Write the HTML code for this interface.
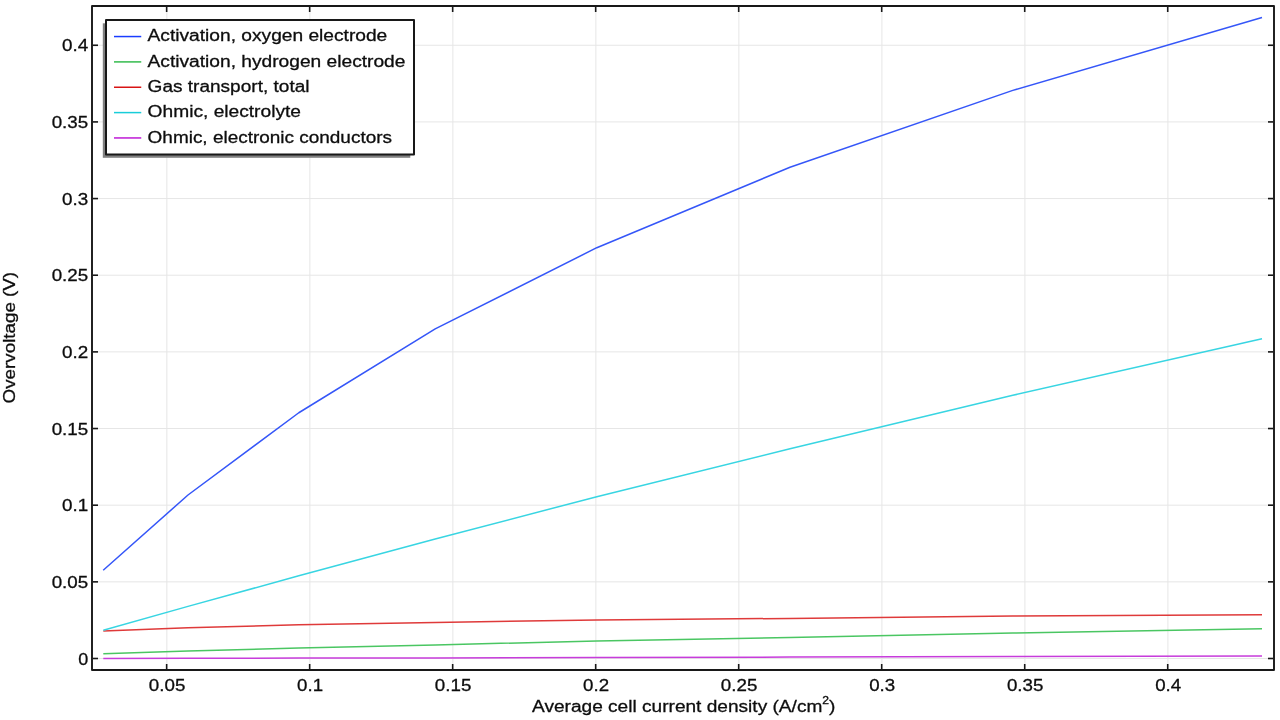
<!DOCTYPE html>
<html lang="en"><head><meta charset="utf-8"><title>Overvoltage vs average cell current density</title>
<style>html,body{margin:0;padding:0;background:#fff}body{width:1280px;height:720px;overflow:hidden}svg{display:block;will-change:transform}text{font-family:"Liberation Sans",sans-serif;fill:#0d0d0d;stroke:#0d0d0d;stroke-width:0.3px}</style>
</head><body>
<svg width="1280" height="720" viewBox="0 0 1280 720">
<rect x="0" y="0" width="1280" height="720" fill="#ffffff"/>
<g stroke="#e6e6e6" stroke-width="1">
<line x1="166.85" y1="7" x2="166.85" y2="669"/>
<line x1="309.86" y1="7" x2="309.86" y2="669"/>
<line x1="452.87" y1="7" x2="452.87" y2="669"/>
<line x1="595.88" y1="7" x2="595.88" y2="669"/>
<line x1="738.89" y1="7" x2="738.89" y2="669"/>
<line x1="881.90" y1="7" x2="881.90" y2="669"/>
<line x1="1024.91" y1="7" x2="1024.91" y2="669"/>
<line x1="1167.92" y1="7" x2="1167.92" y2="669"/>
<line x1="93" y1="658.50" x2="1273" y2="658.50"/>
<line x1="93" y1="581.85" x2="1273" y2="581.85"/>
<line x1="93" y1="505.19" x2="1273" y2="505.19"/>
<line x1="93" y1="428.53" x2="1273" y2="428.53"/>
<line x1="93" y1="351.88" x2="1273" y2="351.88"/>
<line x1="93" y1="275.23" x2="1273" y2="275.23"/>
<line x1="93" y1="198.57" x2="1273" y2="198.57"/>
<line x1="93" y1="121.91" x2="1273" y2="121.91"/>
<line x1="93" y1="45.26" x2="1273" y2="45.26"/>
</g>
<g stroke="#181818" stroke-width="1.6">
<line x1="166.65" y1="669" x2="166.65" y2="664"/>
<line x1="166.65" y1="7" x2="166.65" y2="12"/>
<line x1="309.66" y1="669" x2="309.66" y2="664"/>
<line x1="309.66" y1="7" x2="309.66" y2="12"/>
<line x1="452.67" y1="669" x2="452.67" y2="664"/>
<line x1="452.67" y1="7" x2="452.67" y2="12"/>
<line x1="595.68" y1="669" x2="595.68" y2="664"/>
<line x1="595.68" y1="7" x2="595.68" y2="12"/>
<line x1="738.69" y1="669" x2="738.69" y2="664"/>
<line x1="738.69" y1="7" x2="738.69" y2="12"/>
<line x1="881.70" y1="669" x2="881.70" y2="664"/>
<line x1="881.70" y1="7" x2="881.70" y2="12"/>
<line x1="1024.71" y1="669" x2="1024.71" y2="664"/>
<line x1="1024.71" y1="7" x2="1024.71" y2="12"/>
<line x1="1167.72" y1="669" x2="1167.72" y2="664"/>
<line x1="1167.72" y1="7" x2="1167.72" y2="12"/>
<line x1="93" y1="658.50" x2="98" y2="658.50"/>
<line x1="1273" y1="658.50" x2="1268" y2="658.50"/>
<line x1="93" y1="581.85" x2="98" y2="581.85"/>
<line x1="1273" y1="581.85" x2="1268" y2="581.85"/>
<line x1="93" y1="505.19" x2="98" y2="505.19"/>
<line x1="1273" y1="505.19" x2="1268" y2="505.19"/>
<line x1="93" y1="428.53" x2="98" y2="428.53"/>
<line x1="1273" y1="428.53" x2="1268" y2="428.53"/>
<line x1="93" y1="351.88" x2="98" y2="351.88"/>
<line x1="1273" y1="351.88" x2="1268" y2="351.88"/>
<line x1="93" y1="275.23" x2="98" y2="275.23"/>
<line x1="1273" y1="275.23" x2="1268" y2="275.23"/>
<line x1="93" y1="198.57" x2="98" y2="198.57"/>
<line x1="1273" y1="198.57" x2="1268" y2="198.57"/>
<line x1="93" y1="121.91" x2="98" y2="121.91"/>
<line x1="1273" y1="121.91" x2="1268" y2="121.91"/>
<line x1="93" y1="45.26" x2="98" y2="45.26"/>
<line x1="1273" y1="45.26" x2="1268" y2="45.26"/>
</g>
<g fill="none" stroke-width="1.5" stroke-linejoin="round">
<polyline stroke="#3556f8" points="103.2,570.2 188,495 298.8,412.75 435.2,328.9 596.8,247.7 790,167.25 1012.8,90.4 1262,17.5"/>
<polyline stroke="#4ac662" points="103.3,653.75 188,651.1 298.8,648.1 435.2,645 596.8,640.9 790,637.5 1012.8,633 1262,628.85"/>
<polyline stroke="#df3a3a" points="103.3,631 188,627.75 298.8,624.75 435.2,622.4 596.8,620 790,618.4 1012.8,616.1 1262,614.8"/>
<polyline stroke="#38d5e2" points="103.3,630.2 188,606.4 298.8,575.8 435.2,539 596.8,496.7 790,448.7 1012.8,395.3 1262,338.7"/>
<polyline stroke="#c73cdb" points="103.3,658.5 188,658.35 298.8,658.1 435.2,657.9 596.8,657.5 790,657.1 1012.8,656.4 1262,655.9"/>
</g>
<rect x="92" y="6" width="1182" height="664" fill="none" stroke="#181818" stroke-width="1.9" stroke-linejoin="round"/>
<rect x="102.8" y="23.3" width="307.5" height="134.5" fill="#808080"/>
<rect x="106" y="20" width="308" height="134.4" fill="#ffffff" stroke="#181818" stroke-width="2" stroke-linejoin="round"/>
<line x1="114" y1="36.55" x2="141.25" y2="36.55" stroke="#1a3cff" stroke-width="1.5"/>
<text x="147.6" y="41" font-size="17.3" textLength="239.7" lengthAdjust="spacingAndGlyphs">Activation, oxygen electrode</text>
<line x1="114" y1="61.90" x2="141.25" y2="61.90" stroke="#33bb4d" stroke-width="1.5"/>
<text x="147.6" y="67" font-size="17.3" textLength="257.8" lengthAdjust="spacingAndGlyphs">Activation, hydrogen electrode</text>
<line x1="114" y1="87.25" x2="141.25" y2="87.25" stroke="#d81414" stroke-width="1.5"/>
<text x="147.6" y="92" font-size="17.3" textLength="161.9" lengthAdjust="spacingAndGlyphs">Gas transport, total</text>
<line x1="114" y1="112.60" x2="141.25" y2="112.60" stroke="#19cdd9" stroke-width="1.5"/>
<text x="147.6" y="117" font-size="17.3" textLength="153.4" lengthAdjust="spacingAndGlyphs">Ohmic, electrolyte</text>
<line x1="114" y1="137.95" x2="141.25" y2="137.95" stroke="#bf1ad6" stroke-width="1.5"/>
<text x="147.6" y="143" font-size="17.3" textLength="244.4" lengthAdjust="spacingAndGlyphs">Ohmic, electronic conductors</text>
<text x="78.20" y="664.50" font-size="17.3" textLength="10.0" lengthAdjust="spacingAndGlyphs">0</text>
<text x="51.70" y="587.85" font-size="17.3" textLength="36.5" lengthAdjust="spacingAndGlyphs">0.05</text>
<text x="62.00" y="511.19" font-size="17.3" textLength="26.2" lengthAdjust="spacingAndGlyphs">0.1</text>
<text x="51.70" y="434.53" font-size="17.3" textLength="36.5" lengthAdjust="spacingAndGlyphs">0.15</text>
<text x="62.00" y="357.88" font-size="17.3" textLength="26.2" lengthAdjust="spacingAndGlyphs">0.2</text>
<text x="51.70" y="281.23" font-size="17.3" textLength="36.5" lengthAdjust="spacingAndGlyphs">0.25</text>
<text x="62.00" y="204.57" font-size="17.3" textLength="26.2" lengthAdjust="spacingAndGlyphs">0.3</text>
<text x="51.70" y="127.91" font-size="17.3" textLength="36.5" lengthAdjust="spacingAndGlyphs">0.35</text>
<text x="62.00" y="51.26" font-size="17.3" textLength="26.2" lengthAdjust="spacingAndGlyphs">0.4</text>
<text x="148.85" y="690.8" font-size="17.3" textLength="36.5" lengthAdjust="spacingAndGlyphs">0.05</text>
<text x="297.11" y="690.8" font-size="17.3" textLength="26.0" lengthAdjust="spacingAndGlyphs">0.1</text>
<text x="434.87" y="690.8" font-size="17.3" textLength="36.5" lengthAdjust="spacingAndGlyphs">0.15</text>
<text x="583.13" y="690.8" font-size="17.3" textLength="26.0" lengthAdjust="spacingAndGlyphs">0.2</text>
<text x="720.89" y="690.8" font-size="17.3" textLength="36.5" lengthAdjust="spacingAndGlyphs">0.25</text>
<text x="869.15" y="690.8" font-size="17.3" textLength="26.0" lengthAdjust="spacingAndGlyphs">0.3</text>
<text x="1006.91" y="690.8" font-size="17.3" textLength="36.5" lengthAdjust="spacingAndGlyphs">0.35</text>
<text x="1155.17" y="690.8" font-size="17.3" textLength="26.0" lengthAdjust="spacingAndGlyphs">0.4</text>
<text x="532" y="712" font-size="17.3" textLength="303.5" lengthAdjust="spacingAndGlyphs">Average cell current density (A/cm<tspan font-size="11" dy="-7.6">2</tspan><tspan dy="7.6">)</tspan></text>
<text transform="translate(15.2,403.4) rotate(-90)" x="0" y="0" font-size="17.3" textLength="131.5" lengthAdjust="spacingAndGlyphs">Overvoltage (V)</text>
</svg>
</body></html>
